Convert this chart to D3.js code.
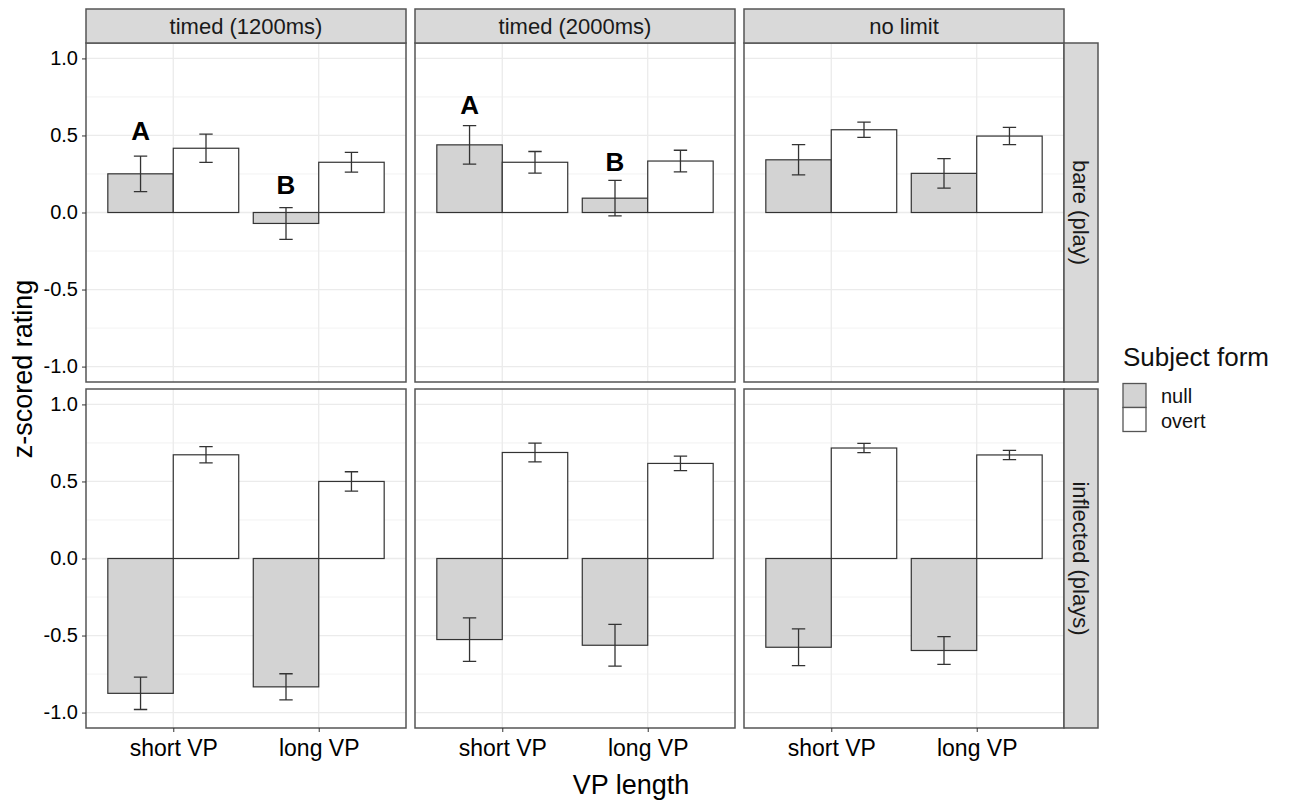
<!DOCTYPE html>
<html>
<head>
<meta charset="utf-8">
<script src="https://cdn.jsdelivr.net/npm/d3@7"></script>
<style>
  body { margin: 0; background: #fff; }
  text { font-family: "Liberation Sans", Arial, sans-serif; }
  .tick line { stroke: #333; }
  .tick text { fill: #000; }
</style>
</head>
<body>
<div id="chart"></div>
<script>
// facets, categories and ticks
const conditions = ["timed (1200ms)", "timed (2000ms)", "no limit"];
const verbForms = ["bare (play)", "inflected (plays)"];
const vpLengths = ["short VP", "long VP"];
const subjectForms = ["null", "overt"];
const yTicks = [-1.0, -0.5, 0.0, 0.5, 1.0];

// mean z-scores, [condition][vp length]
const bareNullMean = [[0.251, -0.071], [0.439, 0.093], [0.342, 0.254]];
const bareNullSE = [[0.115, 0.103], [0.125, 0.115], [0.098, 0.096]];
const bareOvertMean = [[0.417, 0.326], [0.326, 0.334], [0.537, 0.496]];
const bareOvertSE = [[0.092, 0.064], [0.070, 0.070], [0.050, 0.056]];
const inflNullMean = [[-0.875, -0.833], [-0.526, -0.563], [-0.576, -0.597]];
const inflNullSE = [[0.105, 0.085], [0.141, 0.135], [0.119, 0.090]];
const inflOvertMean = [[0.673, 0.500], [0.688, 0.617], [0.717, 0.672]];
const inflOvertSE = [[0.053, 0.063], [0.061, 0.047], [0.030, 0.030]];

// letter annotations (bare row only)
const noteLabels = ["A", "B", "A", "B"];
const noteCondition = [0, 0, 1, 1];
const noteVP = ["short VP", "long VP", "short VP", "long VP"];
const noteY = [0.47, 0.12, 0.64, 0.27];

const means = {null: [bareNullMean, inflNullMean], overt: [bareOvertMean, inflOvertMean]};
const ses = {null: [bareNullSE, inflNullSE], overt: [bareOvertSE, inflOvertSE]};

let data = [];
verbForms.forEach(function (verb, r) {
    conditions.forEach(function (cond, c) {
        vpLengths.forEach(function (vp, v) {
            subjectForms.forEach(function (form) {
                data.push({row: r, col: c, vp: vp, form: form,
                    mean: means[form][r][c][v], se: ses[form][r][c][v]});
            });
        });
    });
});

const W = 1298, H = 802;
const plotLeft = 86, plotTop = 43, panelW = 320, panelH = 339, gapX = 9, gapY = 7;
const stripH = 34;
const fills = {null: "#D3D3D3", overt: "#FFFFFF"};

let svg = d3.select("#chart").append("svg")
    .attr("width", W)
    .attr("height", H);

let x = d3.scalePoint()
    .domain(vpLengths)
    .range([0, panelW])
    .padding(0.6);
const step = x.step();
const barW = 0.45 * step;
const capW = 0.092 * step;

let y = d3.scaleLinear()
    .domain([-1.1, 1.1])
    .range([panelH, 0]);

const minorTicks = d3.pairs(yTicks).map(p => (p[0] + p[1]) / 2);

verbForms.forEach(function (verb, r) {
    conditions.forEach(function (cond, c) {
        const px = plotLeft + c * (panelW + gapX);
        const py = plotTop + r * (panelH + gapY);
        let g = svg.append("g").attr("transform", "translate(" + px + "," + py + ")");

        // grid
        g.selectAll(".minor").data(minorTicks).enter().append("line")
            .attr("x1", 0).attr("x2", panelW)
            .attr("y1", d => y(d)).attr("y2", d => y(d))
            .attr("stroke", "#EFEFEF").attr("stroke-width", 0.8);
        g.selectAll(".major").data(yTicks).enter().append("line")
            .attr("x1", 0).attr("x2", panelW)
            .attr("y1", d => y(d)).attr("y2", d => y(d))
            .attr("stroke", "#EBEBEB").attr("stroke-width", 1.3);
        g.selectAll(".vgrid").data(vpLengths).enter().append("line")
            .attr("x1", d => x(d)).attr("x2", d => x(d))
            .attr("y1", 0).attr("y2", panelH)
            .attr("stroke", "#EBEBEB").attr("stroke-width", 1.3);

        const pd = data.filter(d => d.row === r && d.col === c);

        // bars
        g.selectAll(".bar").data(pd).enter().append("rect")
            .attr("x", d => x(d.vp) + (d.form === "null" ? -barW : 0))
            .attr("width", barW)
            .attr("y", d => y(Math.max(0, d.mean)))
            .attr("height", d => Math.abs(y(d.mean) - y(0)))
            .attr("fill", d => fills[d.form])
            .attr("stroke", "#333")
            .attr("stroke-width", 1.2);

        // error bars
        g.selectAll(".err").data(pd).enter().append("path")
            .attr("d", function (d) {
                const cx = x(d.vp) + (d.form === "null" ? -barW / 2 : barW / 2);
                const y0 = y(d.mean - d.se), y1 = y(d.mean + d.se);
                return "M" + (cx - capW / 2) + "," + y1 + "H" + (cx + capW / 2) +
                    "M" + cx + "," + y1 + "V" + y0 +
                    "M" + (cx - capW / 2) + "," + y0 + "H" + (cx + capW / 2);
            })
            .attr("fill", "none")
            .attr("stroke", "#333")
            .attr("stroke-width", 1.3);

        // letter notes
        if (r === 0) {
            noteLabels.forEach(function (lab, i) {
                if (noteCondition[i] !== c) return;
                g.append("text")
                    .attr("x", x(noteVP[i]) - barW / 2)
                    .attr("y", y(noteY[i]))
                    .attr("text-anchor", "middle")
                    .attr("font-size", 26)
                    .attr("font-weight", "bold")
                    .text(lab);
            });
        }

        // panel border
        g.append("rect")
            .attr("width", panelW).attr("height", panelH)
            .attr("fill", "none")
            .attr("stroke", "#555")
            .attr("stroke-width", 1.5);

        // y axis on first column
        if (c === 0) {
            g.append("g")
                .call(d3.axisLeft(y)
                    .tickValues(yTicks)
                    .tickSize(4)
                    .tickPadding(4)
                    .tickFormat(d => d.toFixed(1)))
                .call(a => a.select(".domain").remove())
                .selectAll("text")
                .attr("font-size", 20);
        }

        // x axis on bottom row
        if (r === verbForms.length - 1) {
            g.append("g")
                .attr("transform", "translate(0," + panelH + ")")
                .call(d3.axisBottom(x)
                    .tickSize(4)
                    .tickPadding(8))
                .call(a => a.select(".domain").remove())
                .selectAll("text")
                .attr("font-size", 23);
        }

        // column strip
        if (r === 0) {
            svg.append("rect")
                .attr("x", px).attr("y", plotTop - stripH)
                .attr("width", panelW).attr("height", stripH)
                .attr("fill", "#D9D9D9")
                .attr("stroke", "#555")
                .attr("stroke-width", 1.5);
            svg.append("text")
                .attr("x", px + panelW / 2)
                .attr("y", plotTop - stripH / 2)
                .attr("dy", "0.36em")
                .attr("text-anchor", "middle")
                .attr("font-size", 22)
                .attr("fill", "#1A1A1A")
                .text(cond);
        }

        // row strip
        if (c === conditions.length - 1) {
            svg.append("rect")
                .attr("x", px + panelW).attr("y", py)
                .attr("width", stripH).attr("height", panelH)
                .attr("fill", "#D9D9D9")
                .attr("stroke", "#555")
                .attr("stroke-width", 1.5);
            svg.append("text")
                .attr("transform", "translate(" + (px + panelW + stripH / 2) + "," + (py + panelH / 2) + ") rotate(90)")
                .attr("dy", "0.36em")
                .attr("text-anchor", "middle")
                .attr("font-size", 22)
                .attr("fill", "#1A1A1A")
                .text(verb);
        }
    });
});

// axis titles
svg.append("text")
    .attr("transform", "translate(32,369) rotate(-90)")
    .attr("text-anchor", "middle")
    .attr("font-size", 27)
    .text("z-scored rating");

svg.append("text")
    .attr("x", 631)
    .attr("y", 794)
    .attr("text-anchor", "middle")
    .attr("font-size", 27)
    .text("VP length");

// legend
const lg = svg.append("g").attr("transform", "translate(1123,366)");
lg.append("text")
    .attr("x", 0).attr("y", 0)
    .attr("font-size", 26)
    .attr("fill", "#111")
    .text("Subject form");
lg.selectAll(".key").data(subjectForms).enter().append("rect")
    .attr("x", 0)
    .attr("y", (d, i) => 17.5 + i * 24)
    .attr("width", 23).attr("height", 24)
    .attr("fill", d => fills[d])
    .attr("stroke", "#555")
    .attr("stroke-width", 1.3);
lg.selectAll(".lab").data(subjectForms).enter().append("text")
    .attr("x", 38)
    .attr("y", (d, i) => 37 + i * 25)
    .attr("font-size", 20)
    .attr("fill", "#111")
    .text(d => d);
</script>
</body>
</html>
